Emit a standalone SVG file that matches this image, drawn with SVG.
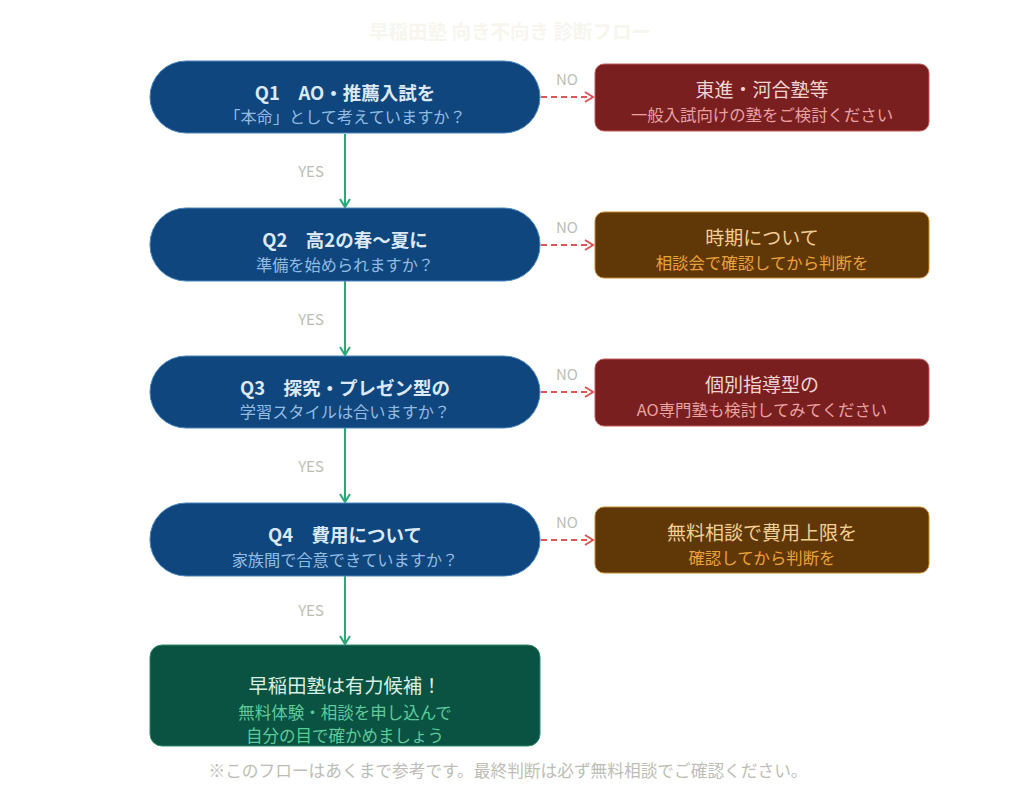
<svg xmlns="http://www.w3.org/2000/svg" width="1024" height="807" viewBox="0 0 1024 807">
<defs>
<style>
text{font-family:"Noto Sans CJK JP","Noto Sans",sans-serif;text-anchor:middle}
.q{fill:#0e467d;stroke:#4a86c0;stroke-width:1}
.qt{fill:#dce8f5;font-size:18.5px;font-weight:bold}
.qs{fill:#94bce2;font-size:16.2px}
.rb{fill:#7a1f1f;stroke:#c25a5a;stroke-width:1}
.rt{fill:#f0d4d4;font-size:19px}
.rs{fill:#e8a2a2;font-size:16.4px}
.bb{fill:#603808;stroke:#c88a30;stroke-width:1}
.bt{fill:#f3cf94;font-size:19px}
.bs{fill:#eca23a;font-size:16.4px}
.yes{stroke:#2aa876;stroke-width:2;fill:none}
.no{stroke:#e05555;stroke-width:2;fill:none;stroke-dasharray:6 4}
.lbl{fill:#bdbdb5;font-size:15px}
</style>
<marker id="ag" viewBox="0 0 12 12" refX="10" refY="6" markerWidth="12" markerHeight="12" markerUnits="userSpaceOnUse" orient="auto"><path d="M2,1 L10,6 L2,11" fill="none" stroke="#2aa876" stroke-width="2"/></marker>
<marker id="ar" viewBox="0 0 12 12" refX="10" refY="6" markerWidth="12" markerHeight="12" markerUnits="userSpaceOnUse" orient="auto"><path d="M2,1 L10,6 L2,11" fill="none" stroke="#e05555" stroke-width="2"/></marker>
</defs>
<rect width="1024" height="807" fill="#ffffff"/>
<text x="510" y="39" style="fill:#f6f6ee;font-size:19.5px;font-weight:bold">早稲田塾 向き不向き 診断フロー</text>

<g id="connectors">
<line class="yes" x1="345" y1="134" x2="345" y2="207" marker-end="url(#ag)"/>
<line class="yes" x1="345" y1="281" x2="345" y2="355" marker-end="url(#ag)"/>
<line class="yes" x1="345" y1="428" x2="345" y2="502" marker-end="url(#ag)"/>
<line class="yes" x1="345" y1="576" x2="345" y2="644" marker-end="url(#ag)"/>
<text class="lbl" x="311" y="177">YES</text>
<text class="lbl" x="311" y="325">YES</text>
<text class="lbl" x="311" y="472">YES</text>
<text class="lbl" x="311" y="616">YES</text>
<line class="no" x1="541" y1="97" x2="593" y2="97" marker-end="url(#ar)"/>
<line class="no" x1="541" y1="245" x2="593" y2="245" marker-end="url(#ar)"/>
<line class="no" x1="541" y1="392" x2="593" y2="392" marker-end="url(#ar)"/>
<line class="no" x1="541" y1="540" x2="593" y2="540" marker-end="url(#ar)"/>
<text class="lbl" x="567" y="85">NO</text>
<text class="lbl" x="567" y="233">NO</text>
<text class="lbl" x="567" y="380">NO</text>
<text class="lbl" x="567" y="528">NO</text>
</g>

<g id="q1"><rect class="q" x="150" y="61" width="390" height="72" rx="36"/>
<text class="qt" x="345" y="100">Q1　AO・推薦入試を</text>
<text class="qs" x="345" y="123">「本命」として考えていますか？</text></g>
<g id="q2"><rect class="q" x="150" y="208" width="390" height="73" rx="36"/>
<text class="qt" x="345" y="247">Q2　高2の春～夏に</text>
<text class="qs" x="345" y="271">準備を始められますか？</text></g>
<g id="q3"><rect class="q" x="150" y="356" width="390" height="72" rx="36"/>
<text class="qt" x="345" y="395">Q3　探究・プレゼン型の</text>
<text class="qs" x="345" y="418">学習スタイルは合いますか？</text></g>
<g id="q4"><rect class="q" x="150" y="503" width="390" height="73" rx="36"/>
<text class="qt" x="345" y="542">Q4　費用について</text>
<text class="qs" x="345" y="566">家族間で合意できていますか？</text></g>

<g id="n1"><rect class="rb" x="595" y="64" width="334" height="67" rx="9"/>
<text class="rt" x="762" y="97">東進・河合塾等</text>
<text class="rs" x="762" y="121">一般入試向けの塾をご検討ください</text></g>
<g id="n2"><rect class="bb" x="595" y="212" width="334" height="66" rx="9"/>
<text class="bt" x="762" y="245">時期について</text>
<text class="bs" x="762" y="269">相談会で確認してから判断を</text></g>
<g id="n3"><rect class="rb" x="595" y="359" width="334" height="67" rx="9"/>
<text class="rt" x="762" y="392">個別指導型の</text>
<text class="rs" x="762" y="416">AO専門塾も検討してみてください</text></g>
<g id="n4"><rect class="bb" x="595" y="507" width="334" height="66" rx="9"/>
<text class="bt" x="762" y="540">無料相談で費用上限を</text>
<text class="bs" x="762" y="564">確認してから判断を</text></g>

<g id="result"><rect x="150" y="645" width="390" height="101" rx="12" fill="#0a5242" stroke="#2e8a6a" stroke-width="1"/>
<text x="345" y="693" style="fill:#d8efe4;font-size:19.3px">早稲田塾は有力候補！</text>
<text x="345" y="719" style="fill:#5ecb9c;font-size:16.5px">無料体験・相談を申し込んで</text>
<text x="345" y="742" style="fill:#5ecb9c;font-size:16.5px">自分の目で確かめましょう</text></g>

<text x="508" y="777" style="fill:#bdbdb5;font-size:16.7px">※このフローはあくまで参考です。最終判断は必ず無料相談でご確認ください。</text>
</svg>
